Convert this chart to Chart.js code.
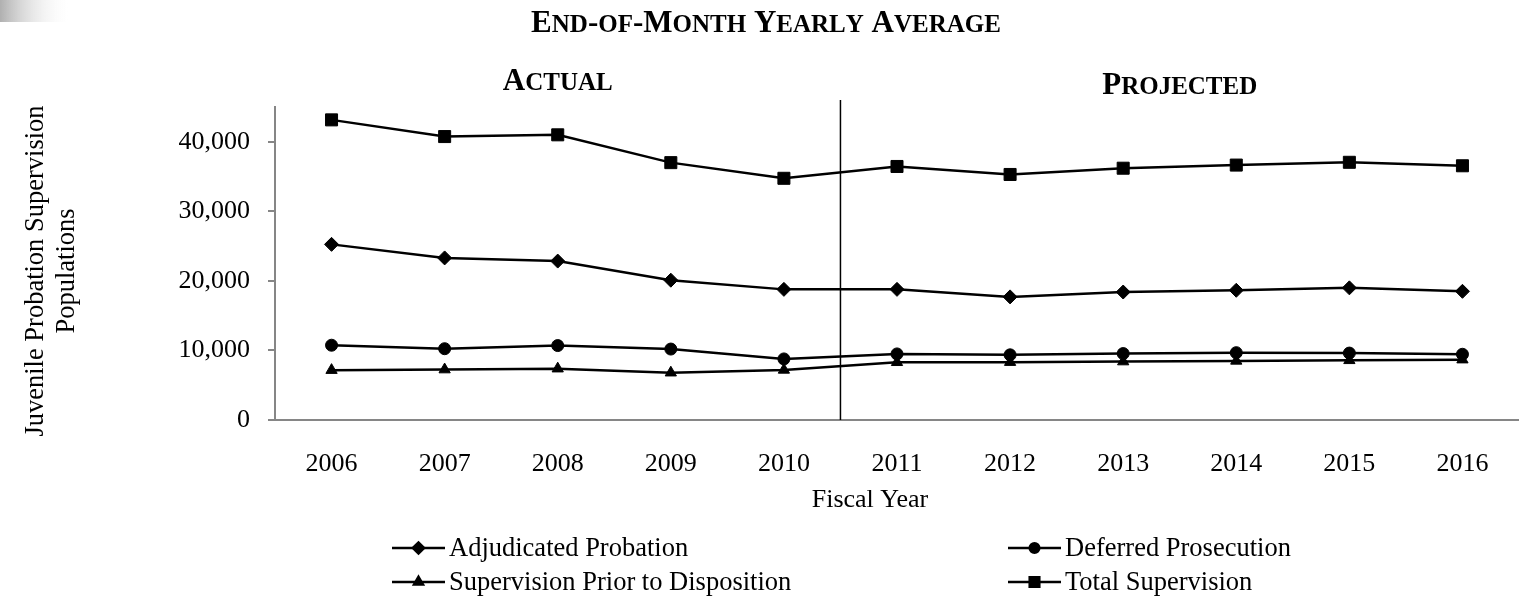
<!DOCTYPE html>
<html>
<head>
<meta charset="utf-8">
<script src="https://cdn.jsdelivr.net/npm/chart.js@4.4.1/dist/chart.umd.min.js"></script>
<style>
html,body{margin:0;padding:0;background:#fff;overflow:hidden;}
#wrap{position:relative;width:1519px;height:604px;}
</style>
</head>
<body>
<div id="wrap"><canvas id="c"></canvas></div>
<script>
// ---- data ----
const categories = ['2006','2007','2008','2009','2010','2011','2012','2013','2014','2015','2016'];
const adjudicatedProbation = [25250, 23300, 22850, 20100, 18780, 18780, 17700, 18400, 18650, 19000, 18500];
const deferredProsecution = [10750, 10250, 10700, 10200, 8780, 9500, 9370, 9550, 9680, 9620, 9450];
const priorToDisposition = [7170, 7250, 7380, 6800, 7200, 8300, 8320, 8400, 8500, 8580, 8680];
const totalSupervision = [43150, 40750, 41000, 37000, 34750, 36450, 35300, 36200, 36650, 37050, 36550];
const seriesLabels = ['Adjudicated Probation','Deferred Prosecution','Supervision Prior to Disposition','Total Supervision'];
const yTickValues = [0, 10000, 20000, 30000, 40000];
const chartTitle = 'End-of-Month Yearly Average';
const periodLabels = ['Actual', 'Projected'];
const lastActualIndex = 4;
const xAxisTitle = 'Fiscal Year';
const yAxisTitle = ['Juvenile Probation Supervision', 'Populations'];

const FONT = "'Liberation Serif','Times New Roman',serif";
Chart.defaults.font.family = FONT;
Chart.defaults.color = '#000';

function drawSmallCaps(ctx, text, cx, baseline, big, small) {
  const parts = [];
  let total = 0;
  for (const ch of text) {
    const isLower = ch !== ch.toUpperCase();
    const size = isLower ? small : big;
    ctx.font = 'bold ' + size + 'px ' + FONT;
    const g = ch.toUpperCase();
    const w = ctx.measureText(g).width;
    parts.push([g, size, w]);
    total += w;
  }
  let x = cx - total / 2;
  ctx.textAlign = 'left';
  ctx.textBaseline = 'alphabetic';
  ctx.fillStyle = '#000';
  for (const [g, size, w] of parts) {
    ctx.font = 'bold ' + size + 'px ' + FONT;
    ctx.fillText(g, x, baseline);
    x += w;
  }
}

const decorPlugin = {
  id: 'decor',
  beforeDraw(chart) {
    const ctx = chart.ctx;
    ctx.save();
    const g = ctx.createLinearGradient(0, 0, 72, 0);
    g.addColorStop(0, '#b0b0b0');
    g.addColorStop(1, 'rgba(255,255,255,0)');
    ctx.fillStyle = g;
    ctx.fillRect(0, 0, 72, 22);
    ctx.restore();
  },
  afterDraw(chart) {
    const ctx = chart.ctx;
    const xs = chart.scales.x;
    const area = chart.chartArea;
    ctx.save();
    // title
    drawSmallCaps(ctx, chartTitle, 766, 32, 31, 25);
    // y axis title (two lines, rotated)
    ctx.save();
    ctx.translate(0, 271);
    ctx.rotate(-Math.PI / 2);
    ctx.font = '26.5px ' + FONT;
    ctx.textAlign = 'center';
    ctx.textBaseline = 'middle';
    ctx.fillStyle = '#000';
    ctx.fillText(yAxisTitle[0], 0, 36);
    ctx.fillText(yAxisTitle[1], 0, 67);
    ctx.restore();
    // x axis title
    ctx.font = '26px ' + FONT;
    ctx.textAlign = 'center';
    ctx.textBaseline = 'middle';
    ctx.fillStyle = '#000';
    ctx.fillText(xAxisTitle, 870, 500);
    // divider between actual and projected
    const divX = (xs.getPixelForValue(lastActualIndex) + xs.getPixelForValue(lastActualIndex + 1)) / 2;
    ctx.strokeStyle = '#000';
    ctx.lineWidth = 1.5;
    ctx.beginPath();
    ctx.moveTo(divX, 100);
    ctx.lineTo(divX, area.bottom);
    ctx.stroke();
    drawSmallCaps(ctx, periodLabels[0], (area.left + divX) / 2, 90, 31, 25);
    drawSmallCaps(ctx, periodLabels[1], (divX + area.right) / 2, 94, 31, 25);
    // legend
    const colX = [392, 1008];
    const rowY = [548, 582];
    const lineW = 53;
    chart.data.datasets.forEach((ds, i) => {
      const x0 = colX[i % 2];
      const y0 = rowY[Math.floor(i / 2)];
      ctx.strokeStyle = '#000';
      ctx.lineWidth = 2.5;
      ctx.beginPath();
      ctx.moveTo(x0, y0);
      ctx.lineTo(x0 + lineW, y0);
      ctx.stroke();
      ctx.fillStyle = '#000';
      Chart.helpers.drawPoint(ctx, {
        pointStyle: ds.pointStyle,
        radius: ds.pointRadius * 0.8,
        rotation: 0,
        borderWidth: 1
      }, x0 + lineW / 2, y0);
      ctx.fill();
      ctx.font = '26.5px ' + FONT;
      ctx.textAlign = 'left';
      ctx.textBaseline = 'middle';
      ctx.fillStyle = '#000';
      ctx.fillText(ds.label, x0 + lineW + 4, y0 + 1);
    });
    ctx.restore();
  }
};

function mkSet(label, data, style, r) {
  return {
    label: label,
    data: data,
    borderColor: '#000',
    backgroundColor: '#000',
    borderWidth: 2.5,
    tension: 0,
    pointStyle: style,
    pointRadius: r,
    pointBorderWidth: 1,
    pointBackgroundColor: '#000',
    pointBorderColor: '#000',
    clip: false
  };
}

new Chart(document.getElementById('c'), {
  type: 'line',
  data: {
    labels: categories,
    datasets: [
      mkSet(seriesLabels[0], adjudicatedProbation, 'rectRot', 7),
      mkSet(seriesLabels[1], deferredProsecution, 'circle', 6),
      mkSet(seriesLabels[2], priorToDisposition, 'triangle', 6.5),
      mkSet(seriesLabels[3], totalSupervision, 'rect', 8.5)
    ]
  },
  options: {
    responsive: true,
    maintainAspectRatio: false,
    animation: false,
    events: [],
    layout: { autoPadding: false, padding: { top: 107, bottom: 84, left: 0, right: 0 } },
    plugins: {
      legend: { display: false },
      title: { display: false },
      tooltip: { enabled: false }
    },
    scales: {
      x: {
        type: 'category',
        offset: true,
        afterFit: (s) => { s.height = 100; },
        border: { display: true, color: '#868686', width: 2 },
        grid: { display: true, drawOnChartArea: false, drawTicks: true, tickLength: 29, tickColor: 'rgba(0,0,0,0)' },
        ticks: { padding: 0, color: '#000', font: { size: 26, family: FONT }, maxRotation: 0, autoSkip: false },
        title: { display: false }
      },
      y: {
        min: 0,
        max: 45000,
        afterBuildTicks: (s) => { s.ticks = yTickValues.map(v => ({ value: v })); },
        afterFit: (s) => { s.width = 275; },
        border: { display: true, color: '#868686', width: 2 },
        grid: { display: true, drawOnChartArea: false, drawTicks: true, tickLength: 7, color: '#868686', lineWidth: 2 },
        ticks: { padding: 18, color: '#000', font: { size: 26, family: FONT }, callback: (v) => Number(v).toLocaleString('en-US') },
        title: { display: false }
      }
    }
  },
  plugins: [decorPlugin]
});
</script>
</body>
</html>
